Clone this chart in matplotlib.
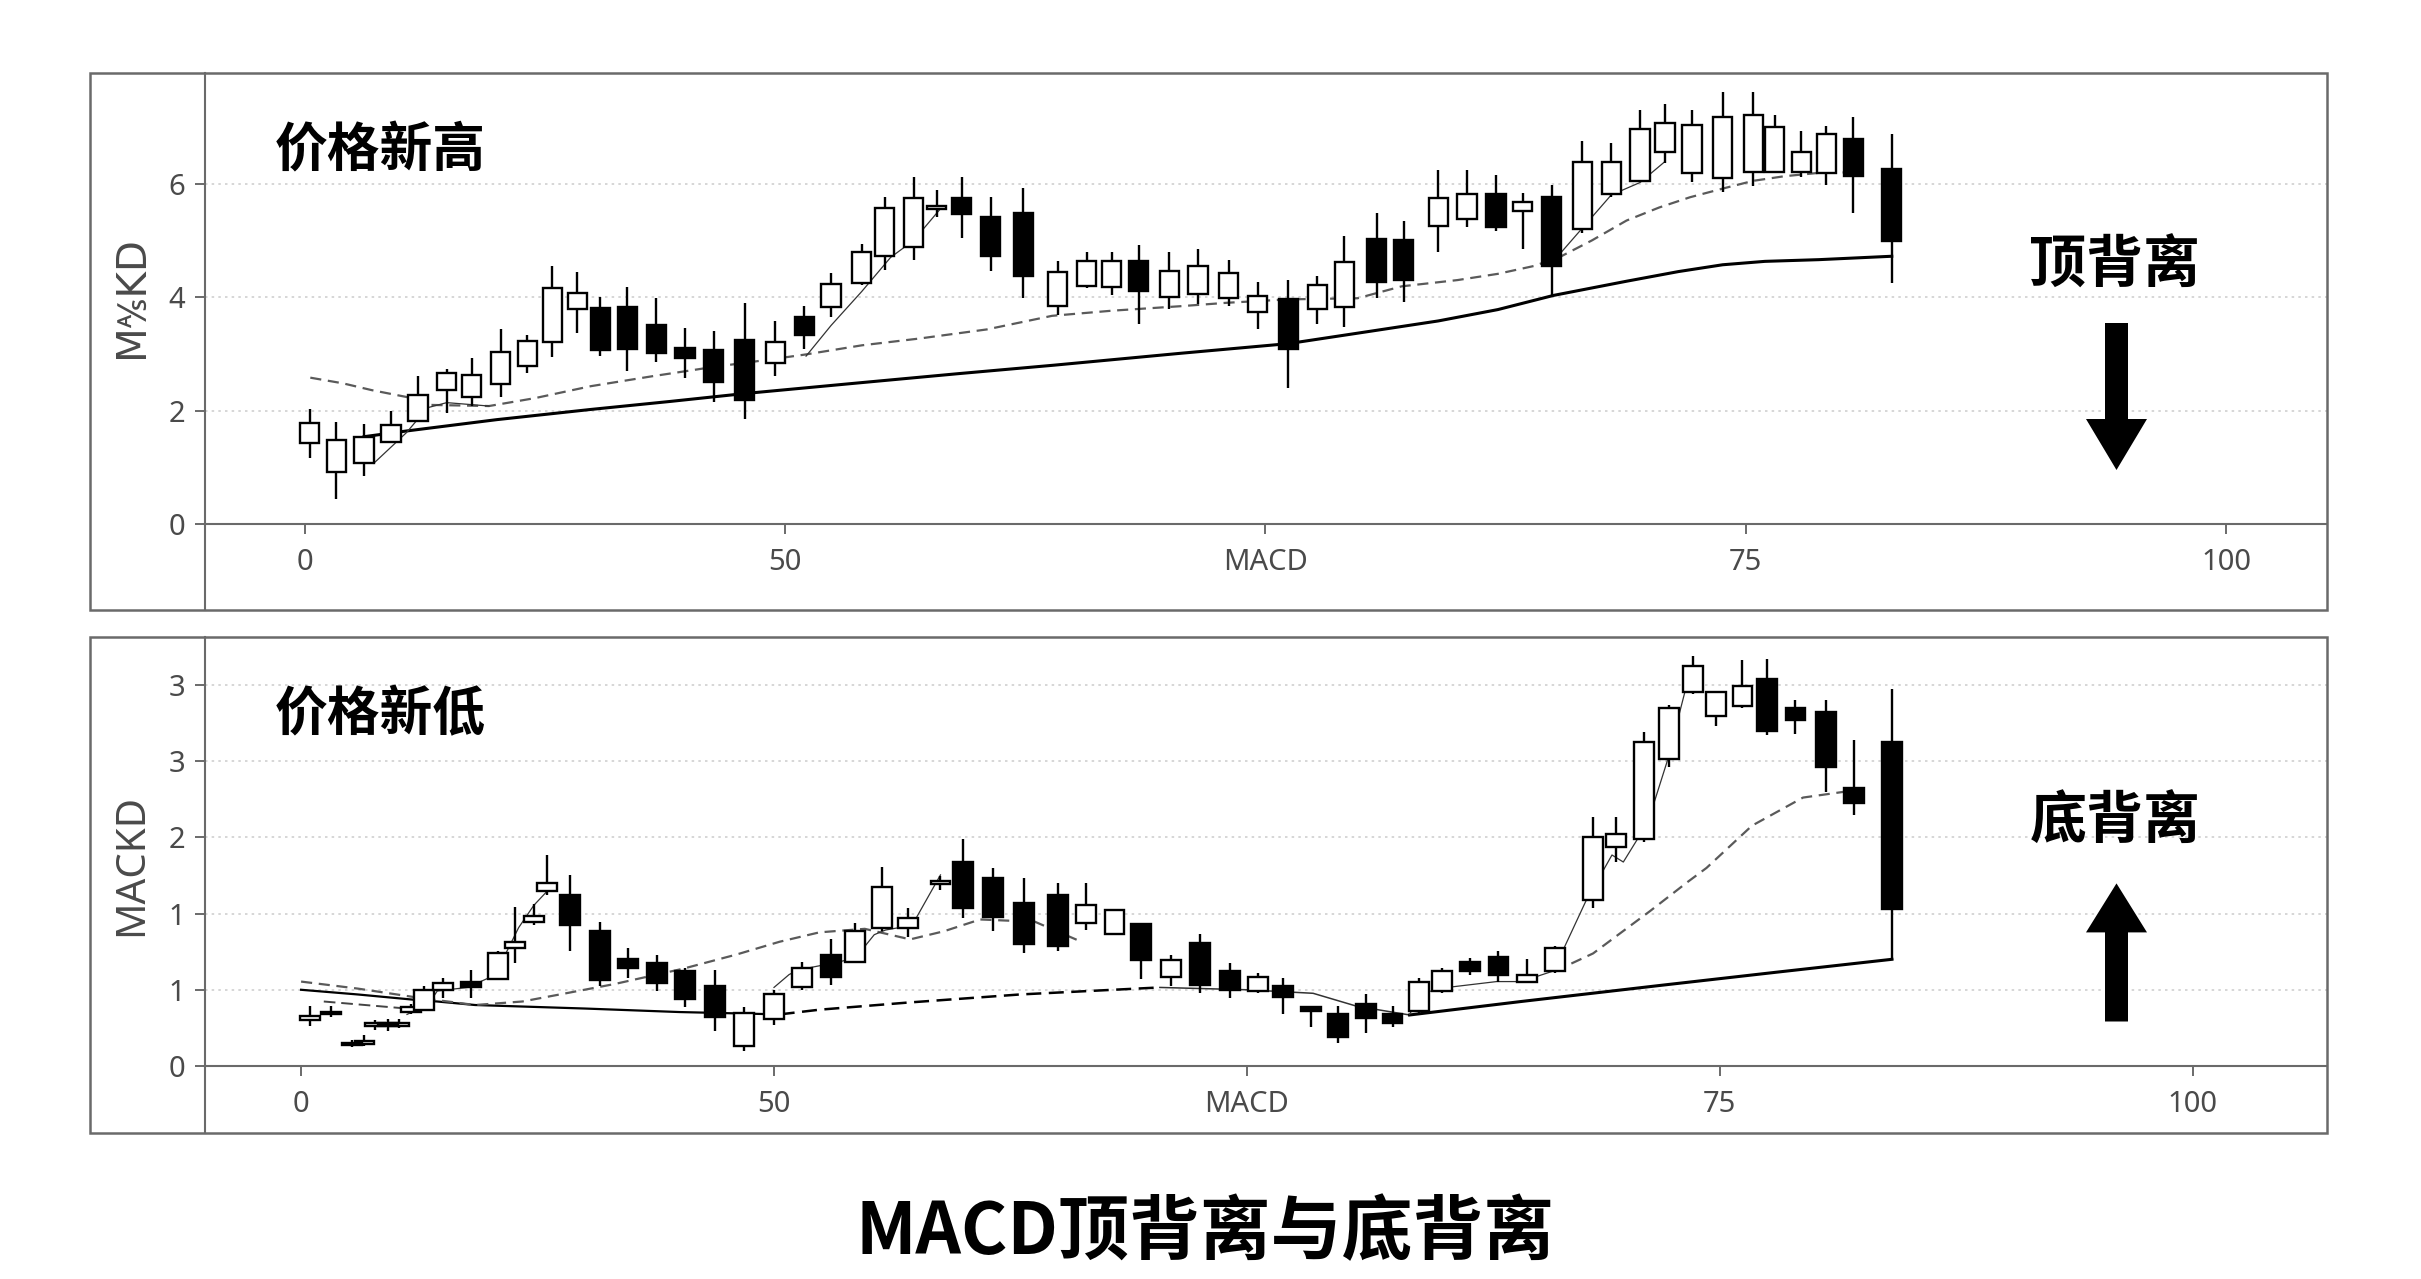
import matplotlib
matplotlib.use("Agg")
import matplotlib.pyplot as plt
from matplotlib.patches import Rectangle, FancyArrow
import numpy as np

# ---------------- data: top panel (价格新高 / 顶背离) ----------------
top_x = [0.27, 1.65, 3.1, 4.5, 5.9, 7.4, 8.7, 10.2, 11.6, 12.9, 14.2, 15.4, 16.8, 18.3,
         19.8, 21.3, 22.9, 24.5, 26.0, 27.4, 29.0, 30.2, 31.7, 32.9, 34.2, 35.7, 37.4,
         39.2, 40.7, 42.0, 43.4, 45.0, 46.5, 48.1, 49.6, 51.2, 52.7, 54.1, 55.8, 57.2,
         59.0, 60.5, 62.0, 63.4, 64.9, 66.5, 68.0, 69.5, 70.8, 72.2, 73.8, 75.4, 76.5,
         77.9, 79.2, 80.6, 82.6]
top_open = [1.42, 0.91, 1.07, 1.44, 1.81, 2.36, 2.24, 2.47, 2.78, 3.21, 3.79, 3.81, 3.82, 3.51,
            3.11, 3.07, 3.24, 2.83, 3.65, 3.82, 4.25, 4.72, 4.88, 5.56, 5.74, 5.42, 5.48,
            3.84, 4.19, 4.18, 4.63, 4.00, 4.06, 3.98, 3.73, 3.96, 3.79, 3.83, 5.02, 5.00,
            5.25, 5.37, 5.81, 5.51, 5.76, 5.20, 5.81, 6.05, 6.56, 6.19, 6.10, 6.20, 6.20,
            6.20, 6.19, 6.79, 6.26]
top_high = [2.02, 1.80, 1.76, 2.00, 2.61, 2.74, 2.93, 3.43, 3.34, 4.54, 4.44, 4.00, 4.18, 3.98,
            3.45, 3.40, 3.89, 3.58, 3.84, 4.42, 4.94, 5.76, 6.11, 5.89, 6.12, 5.76, 5.92,
            4.63, 4.79, 4.80, 4.91, 4.79, 4.85, 4.65, 4.27, 4.30, 4.38, 5.08, 5.49, 5.35,
            6.24, 6.24, 6.16, 5.83, 5.97, 6.75, 6.72, 7.29, 7.40, 7.29, 7.62, 7.62, 7.21,
            6.93, 7.02, 7.18, 6.88]
top_low = [1.17, 0.44, 0.85, 1.42, 1.80, 1.95, 2.08, 2.24, 2.66, 2.95, 3.37, 2.96, 2.69, 2.85,
           2.58, 2.15, 1.86, 2.61, 3.09, 3.65, 4.22, 4.47, 4.66, 5.42, 5.04, 4.46, 3.98,
           3.69, 4.16, 4.04, 3.53, 3.79, 3.87, 3.84, 3.43, 2.39, 3.52, 3.48, 3.98, 3.91,
           4.79, 5.23, 5.17, 4.85, 4.03, 5.13, 5.76, 6.02, 6.36, 6.02, 5.86, 5.95, 6.19,
           6.11, 5.98, 5.48, 4.25]
top_close = [1.78, 1.49, 1.54, 1.75, 2.27, 2.66, 2.63, 3.04, 3.23, 4.16, 4.08, 3.06, 3.09, 3.01,
             2.93, 2.50, 2.19, 3.20, 3.33, 4.23, 4.79, 5.57, 5.74, 5.61, 5.47, 4.72, 4.38,
             4.44, 4.63, 4.63, 4.11, 4.46, 4.55, 4.42, 4.02, 3.09, 4.21, 4.61, 4.27, 4.30,
             5.74, 5.81, 5.23, 5.68, 4.54, 6.39, 6.38, 6.97, 7.07, 7.04, 7.17, 7.21, 7.00,
             6.56, 6.87, 6.14, 4.99]

top_slow_x = [3.1, 5.3, 10, 14.9, 19, 22.9, 28.9, 34, 39, 45.6, 51.2, 55.5, 59, 62.1, 65,
              68.8, 71.5, 73.8, 76, 78.8, 82.6]
top_slow_y = [1.54, 1.64, 1.84, 2.02, 2.16, 2.30, 2.49, 2.65, 2.80, 3.01, 3.18, 3.40, 3.58,
              3.78, 4.03, 4.28, 4.45, 4.57, 4.63, 4.66, 4.72]
top_mid_x = [0.3, 2, 3.5, 5.3, 6.5, 9.6, 12, 14.9, 18, 21.3, 24, 26.1, 29, 32, 35.5, 38.9,
             42, 45.6, 48, 51.2, 54.8, 57.1, 60, 62.1, 64, 65.4, 67, 68.8, 70.5, 72.1, 74,
             75.4, 77, 78.8, 80.6]
top_mid_y = [2.58, 2.48, 2.36, 2.24, 2.10, 2.08, 2.22, 2.43, 2.60, 2.77, 2.89, 2.99, 3.15,
             3.27, 3.43, 3.67, 3.76, 3.84, 3.90, 3.96, 3.98, 4.19, 4.30, 4.41, 4.55, 4.72,
             5.00, 5.35, 5.58, 5.76, 5.93, 6.05, 6.13, 6.19, 6.20]
top_fast_x = [3.6, 5.3, 6.4, 7.4, 9.6, np.nan, 26.1, 27.4, 29.0, 30.5, 31.7, 33.2, np.nan,
              65.4, 68.0, 69.5, 70.8]
top_fast_y = [1.07, 1.61, 2.05, 2.14, 2.08, np.nan, 2.96, 3.50, 4.10, 4.70, 5.00, 5.60, np.nan,
              4.79, 5.80, 6.02, 6.39]

# ---------------- data: bottom panel (价格新低 / 底背离) ----------------
bot_x = [0.48, 1.6, 2.7, 3.35, 3.9, 4.6, 5.2, 5.8, 6.5, 7.5, 9.0, 10.4, 11.3, 12.3, 13.0,
         14.2, 15.8, 17.3, 18.8, 20.3, 21.9, 23.4, 25.0, 26.5, 28.0, 29.3, 30.7, 32.1,
         33.8, 35.0, 36.6, 38.2, 40.0, 41.5, 43.0, 44.4, 46.0, 47.5, 49.1, 50.6, 51.9,
         53.4, 54.8, 56.3, 57.7, 59.1, 60.3, 61.8, 63.3, 64.8, 66.3, 68.3, 69.5, 71.0,
         72.3, 73.6, 74.8, 76.2, 77.5, 79.0, 80.6, 82.1, 84.1]
bot_open = [0.39, 0.44, 0.20, 0.19, 0.34, 0.37, 0.34, 0.46, 0.48, 0.65, 0.72, 0.74, 1.01, 1.23,
            1.49, 1.46, 1.15, 0.91, 0.88, 0.81, 0.68, 0.17, 0.40, 0.67, 0.95, 0.89, 1.18,
            1.18, 1.55, 1.74, 1.60, 1.39, 1.46, 1.22, 1.13, 1.21, 0.76, 1.05, 0.81, 0.64,
            0.68, 0.50, 0.44, 0.53, 0.44, 0.47, 0.64, 0.89, 0.93, 0.72, 0.81, 1.42, 1.87,
            1.94, 2.62, 3.19, 2.99, 3.07, 3.30, 3.05, 3.02, 2.37, 2.76]
bot_high = [0.51, 0.51, 0.22, 0.26, 0.39, 0.40, 0.40, 0.53, 0.68, 0.75, 0.82, 0.98, 1.36, 1.38,
            1.80, 1.63, 1.23, 1.01, 0.95, 0.84, 0.82, 0.50, 0.65, 0.89, 1.08, 1.22, 1.70,
            1.35, 1.62, 1.94, 1.69, 1.60, 1.56, 1.56, 1.34, 1.22, 0.95, 1.13, 0.88, 0.79,
            0.75, 0.51, 0.51, 0.61, 0.51, 0.75, 0.84, 0.92, 0.98, 0.91, 1.02, 2.12, 2.12,
            2.85, 3.08, 3.50, 3.20, 3.46, 3.47, 3.12, 3.12, 2.78, 3.22]
bot_low = [0.34, 0.42, 0.16, 0.17, 0.31, 0.30, 0.32, 0.44, 0.47, 0.58, 0.58, 0.73, 0.88, 1.20,
           1.46, 0.98, 0.68, 0.75, 0.64, 0.50, 0.30, 0.13, 0.35, 0.65, 0.69, 0.88, 1.15,
           1.10, 1.50, 1.26, 1.15, 0.96, 0.98, 1.16, 1.12, 0.74, 0.68, 0.62, 0.58, 0.62,
           0.44, 0.33, 0.20, 0.28, 0.33, 0.44, 0.62, 0.78, 0.72, 0.71, 0.79, 1.35, 1.74,
           1.91, 2.55, 3.17, 2.90, 3.05, 2.82, 2.83, 2.34, 2.14, 0.90]
bot_close = [0.43, 0.46, 0.18, 0.21, 0.37, 0.34, 0.37, 0.50, 0.65, 0.71, 0.67, 0.96, 1.06, 1.28,
             1.56, 1.20, 0.73, 0.84, 0.71, 0.57, 0.42, 0.45, 0.61, 0.84, 0.76, 1.15, 1.53,
             1.26, 1.58, 1.35, 1.27, 1.04, 1.02, 1.37, 1.33, 0.90, 0.90, 0.69, 0.65, 0.76,
             0.59, 0.47, 0.25, 0.41, 0.37, 0.72, 0.81, 0.81, 0.78, 0.78, 1.01, 1.95, 1.98,
             2.76, 3.05, 3.41, 3.19, 3.24, 2.86, 2.95, 2.55, 2.24, 1.34]

bot_slow_x = [0, 3, 6.3, 7.2, 9.2, 15, 20, 25.3, 27.4, 32, 38, 45.4, 50, 53.5, 55.8, 58.6,
              64.5, 72, 78, 84.1]
bot_slow_y = [0.65, 0.61, 0.56, 0.55, 0.52, 0.49, 0.46, 0.44, 0.48, 0.54, 0.61, 0.67, 0.65,
              0.62, 0.51, 0.435, 0.55, 0.69, 0.80, 0.91]
bot_mid_x = [0, 3, 6.3, 9.2, 11.7, 14, 16.6, 20.2, 23, 25.3, 27.4, 29.8, 32.2, 34, 35.9,
             38.8, 41.1, np.nan, 66.3, 68.3, 71.3, 73.3, 74.3, 76.7, 79.4, 81.6]
bot_mid_y = [0.72, 0.66, 0.58, 0.52, 0.55, 0.62, 0.70, 0.83, 0.95, 1.06, 1.14, 1.17, 1.08,
             1.15, 1.25, 1.23, 1.07, np.nan, 0.81, 0.96, 1.32, 1.57, 1.69, 2.05, 2.29, 2.34]
bot_sig_x = [1.2, 6.3]
bot_sig_y = [0.55, 0.48]
bot_fast_x = [5.6, 6.7, 7.2, 8.8, 9.9, 10.7, 11.5, 12.3, 13.0, np.nan,
              25.0, 25.8, 26.3, 28.2, 29.3, 30.3, 30.9, 32.3, 33.8, np.nan,
              58.6, 59.2, 60.6, 63.2, 64.5, 66.2, 67.9, 69.3, 69.9, 71.2, 72.2, 73.2]
bot_fast_y = [0.44, 0.52, 0.64, 0.67, 0.75, 0.92, 1.18, 1.37, 1.49, np.nan,
              0.67, 0.78, 0.82, 0.88, 0.92, 1.12, 1.16, 1.20, 1.63, np.nan,
              0.44, 0.62, 0.67, 0.72, 0.72, 0.81, 1.40, 1.80, 1.74, 2.08, 2.59, 3.22]

# ---------------- ticks / labels ----------------
x_tick_pos = [0, 25, 50, 75, 100]
x_tick_labels = ["0", "50", "MACD", "75", "100"]
top_y_ticks = [0, 2, 4, 6]
top_y_labels = ["0", "2", "4", "6"]
bot_y_ticks = [0, 0.65, 1.3, 1.95, 2.6, 3.25]
bot_y_labels = ["0", "1", "1", "2", "3", "3"]

plt.rcParams["font.family"] = ["Noto Sans", "DejaVu Sans", "Noto Sans CJK SC"]
CJK = ["Noto Sans CJK SC", "DejaVu Sans"]

W, H = 2421, 1279
fig = plt.figure(figsize=(W / 100, H / 100), dpi=100)
fig.patch.set_facecolor("white")

SPINE = "#6a6a6a"
TXT = "#4a4a4a"


def setup(ax, xlim, ylim, yt, yl):
    ax.set_xlim(*xlim)
    ax.set_ylim(*ylim)
    for s in ("top", "right"):
        ax.spines[s].set_visible(False)
    ax.spines["left"].set_color(SPINE)
    ax.spines["left"].set_linewidth(1.5)
    ax.spines["bottom"].set_position(("data", 0))
    ax.spines["bottom"].set_color(SPINE)
    ax.spines["bottom"].set_linewidth(1.5)
    ax.set_xticks(x_tick_pos)
    ax.set_xticklabels(x_tick_labels)
    ax.set_yticks(yt)
    ax.set_yticklabels(yl)
    ax.tick_params(axis="x", length=7, width=1.4, color=SPINE, pad=10,
                   labelsize=21, labelcolor=TXT)
    ax.tick_params(axis="y", length=7, width=1.4, color=SPINE, pad=7,
                   labelsize=21, labelcolor=TXT)
    ax.yaxis.grid(True, ls=(0, (1.5, 2.5)), color="#d0d0d0", lw=1.2, zorder=0)
    ax.set_axisbelow(True)


def candles(ax, x, o, h, l, c, width):
    x = np.asarray(x); o = np.asarray(o); h = np.asarray(h)
    l = np.asarray(l); c = np.asarray(c)
    up = c >= o
    ax.vlines(x, l, h, color="black", lw=1.7, zorder=3)
    bottom = np.minimum(o, c)
    height = np.abs(c - o)
    ax.bar(x[up], height[up], bottom=bottom[up], width=width, color="white",
           edgecolor="black", lw=1.7, zorder=4)
    ax.bar(x[~up], height[~up], bottom=bottom[~up], width=width, color="black",
           edgecolor="black", lw=1.7, zorder=4)


# ---------------- top panel ----------------
ax1 = fig.add_axes([205 / W, 1 - 610 / H, 2122 / W, 537 / H])
setup(ax1, (-5.18, 105.25), (-1.515, 7.95), top_y_ticks, top_y_labels)
ax1.plot(top_slow_x, top_slow_y, color="black", lw=2.2, zorder=2)
ax1.plot(top_mid_x, top_mid_y, color="#5a5a5a", lw=1.6, ls=(0, (5, 3)), zorder=2)
ax1.plot(top_fast_x, top_fast_y, color="#333333", lw=0.9, zorder=2)
candles(ax1, top_x, top_open, top_high, top_low, top_close, 1.0)
ax1.set_ylabel("M\u214dKD", fontsize=29, color=TXT, va="center",
               family=["DejaVu Sans", "Noto Sans"])
ax1.yaxis.set_label_coords(-0.0344, 0.583)
ax1.text(0.033, 0.855, "价格新高", transform=ax1.transAxes, ha="left", va="center",
         fontsize=38, weight="heavy", family=CJK, color="black")
ax1.text(0.900, 0.641, "顶背离", transform=ax1.transAxes, ha="center", va="center",
         fontsize=41, weight="heavy", family=CJK, color="black")

# ---------------- bottom panel ----------------
ax2 = fig.add_axes([205 / W, 1 - 1133 / H, 2122 / W, 496 / H])
setup(ax2, (-5.08, 107.1), (-0.572, 3.66), bot_y_ticks, bot_y_labels)
sx = np.asarray(bot_slow_x); sy = np.asarray(bot_slow_y)
ax2.plot(sx[:8], sy[:8], color="black", lw=1.6, zorder=2)
ax2.plot(sx[7:12], sy[7:12], color="black", lw=1.8, ls=(0, (6, 3)), zorder=2)
ax2.plot(sx[11:16], sy[11:16], color="#333333", lw=1.1, zorder=2)
ax2.plot(sx[15:], sy[15:], color="black", lw=2.2, zorder=2)
ax2.plot(bot_mid_x, bot_mid_y, color="#5a5a5a", lw=1.6, ls=(0, (5, 3)), zorder=2)
ax2.plot(bot_sig_x, bot_sig_y, color="#444444", lw=1.4, ls=(0, (6, 3)), zorder=2)
ax2.plot(bot_fast_x, bot_fast_y, color="#333333", lw=0.9, zorder=2)
candles(ax2, bot_x, bot_open, bot_high, bot_low, bot_close, 1.05)
ax2.set_ylabel("MACKD", fontsize=29, color=TXT, va="center")
ax2.yaxis.set_label_coords(-0.0344, 0.540)
ax2.text(0.033, 0.843, "价格新低", transform=ax2.transAxes, ha="left", va="center",
         fontsize=38, weight="heavy", family=CJK, color="black")
ax2.text(0.900, 0.627, "底背离", transform=ax2.transAxes, ha="center", va="center",
         fontsize=41, weight="heavy", family=CJK, color="black")

# ---------------- panel frames ----------------
for top_px, bot_px in ((73, 610), (637, 1133)):
    fig.add_artist(Rectangle((90 / W, 1 - bot_px / H), (2327 - 90) / W, (bot_px - top_px) / H,
                             transform=fig.transFigure, fill=False, ec=SPINE, lw=1.8))

# ---------------- arrows ----------------
fig.add_artist(FancyArrow(2116.5 / W, 1 - 323 / H, 0, -(470 - 323) / H, width=23 / W,
                          head_width=61 / W, head_length=51 / H, length_includes_head=True,
                          transform=fig.transFigure, color="black", lw=0))
fig.add_artist(FancyArrow(2116.5 / W, 1 - 1021.5 / H, 0, (1021.5 - 883.4) / H, width=23 / W,
                          head_width=61 / W, head_length=49 / H, length_includes_head=True,
                          transform=fig.transFigure, color="black", lw=0))

# ---------------- title ----------------
fig.text(1205 / W, 1 - 1233 / H, "MACD顶背离与底背离", ha="center", va="center",
         fontsize=51, weight="heavy", family=CJK, color="black")

fig.savefig("out.png", dpi=100, facecolor="white")
